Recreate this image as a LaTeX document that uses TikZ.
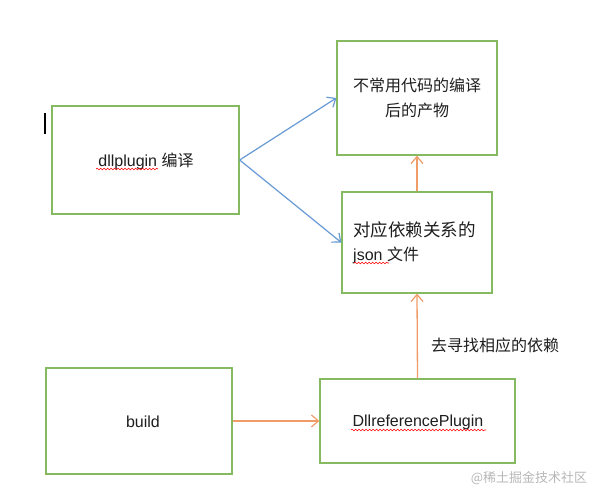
\documentclass[tikz,border=0pt]{standalone}
\usepackage{fontspec}
\setmainfont{Liberation Sans}
\newfontfamily\cjk{Noto Sans CJK SC}
\usetikzlibrary{arrows.meta,decorations.pathmorphing}
\definecolor{boxgreen}{RGB}{134,186,96}
\definecolor{arrblue}{RGB}{104,154,212}
\definecolor{arrorange}{RGB}{240,156,104}
\definecolor{txt}{RGB}{30,30,30}
\begin{document}
\begin{tikzpicture}[x=1pt,y=-1pt,
  box/.style={draw=boxgreen,line width=1.3pt,inner sep=0pt,text=txt,font=\fontsize{16}{25}\selectfont},
  lbl/.style={inner sep=0pt,text=txt,font=\fontsize{16}{25}\selectfont},
  tipstyle/.style={-{Straight Barb[length=7pt,width=12pt,line width=1.2pt]}},
  bluearrow/.style={draw=arrblue,line width=1.2pt,tipstyle},
  orangearrow/.style={draw=arrorange,line width=1.3pt,tipstyle},
  squiggle/.style={draw=red,line width=0.6pt,decorate,decoration={snake,segment length=3.5pt,amplitude=0.8pt}}
]
\useasboundingbox (0,0) rectangle (600,500);
\fill[white] (0,0) rectangle (600,500);

% boxes
\node[box,minimum width=187pt,minimum height=108pt] (a) at (145.5,160) {};
\node[box,minimum width=160pt,minimum height=114pt] (b) at (417,98) {};
\node[box,minimum width=150pt,minimum height=101pt] (c) at (417,242.5) {};
\node[box,minimum width=186pt,minimum height=106pt] (d) at (139,421) {};
\node[box,minimum width=195pt,minimum height=84pt] (e) at (417.5,421) {};

% texts
\node[lbl] (ta) at (146,161) {dllplugin {\cjk 编译}};
\node[lbl,align=center] (tb) at (417,97.5) {{\cjk 不常用代码的编译}\\{\cjk 后的产物}};
\node[lbl,anchor=west,font=\fontsize{17.5}{25}\selectfont] (tc1) at (353,230) {\cjk 对应依赖关系的};
\node[lbl,anchor=west] (tc2) at (353,255) {json {\cjk 文件}};
\node[lbl] (td) at (143,422) {build};
\node[lbl] (te) at (418,422) {DllreferencePlugin};
\node[lbl,anchor=west] (tl) at (431,345) {\cjk 去寻找相应的依赖};
\node[inner sep=0pt,text=black!28,font=\cjk\fontsize{13}{16}\selectfont] (wm) at (529,478) {@稀土掘金技术社区};

% spell-check squiggles
\coordinate (sa1) at (96,169); \coordinate (sa2) at (158,169);
\draw[squiggle] (sa1) -- (sa2);
\coordinate (sc1) at (354,263); \coordinate (sc2) at (389,263);
\draw[squiggle] (sc1) -- (sc2);
\coordinate (se1) at (351,430); \coordinate (se2) at (486,430);
\draw[squiggle] (se1) -- (se2);

% cursor
\coordinate (cur1) at (45,113); \coordinate (cur2) at (45,134);
\draw[line width=1.4pt,black] (cur1) -- (cur2);

% connectors
\draw[bluearrow] (a.east) -- (b.west);
\draw[bluearrow] (a.east) -- (c.west);
\draw[orangearrow] (d.east) -- (e.west);
\draw[orangearrow] (e.north) -- (c.south);
\draw[orangearrow] (c.north) -- (b.south);
\end{tikzpicture}
\end{document}
